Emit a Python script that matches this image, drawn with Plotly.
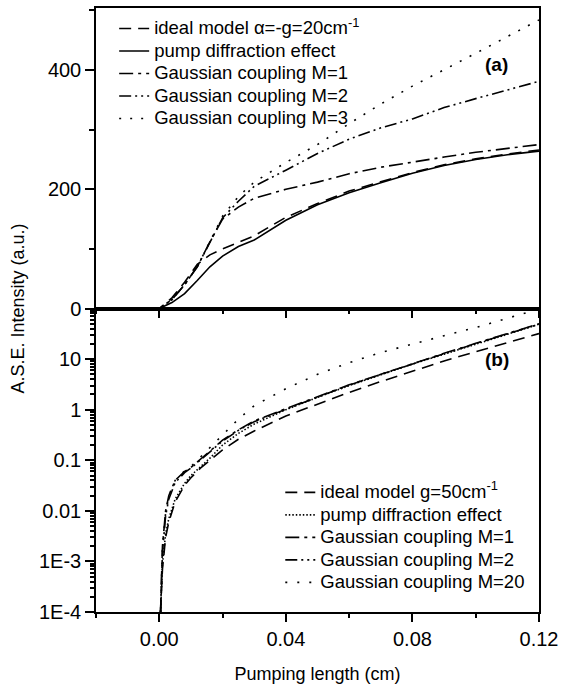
import plotly.graph_objects as go
from plotly.subplots import make_subplots

# panel (a), linear intensity
xa = [-0.02, 0.0, 0.004, 0.008, 0.012, 0.016, 0.02, 0.025, 0.03, 0.04, 0.05,
      0.06, 0.07, 0.08, 0.09, 0.10, 0.11, 0.12]
ideal_a = [0, 0, 18, 44, 74, 90, 100, 111, 122, 153, 176, 197, 213, 228, 241, 251, 259, 266]
pump_a = [0, 0, 10, 25, 47, 70, 88, 104, 115, 148, 174, 194, 211, 227, 240, 250, 258, 264]
m1_a = [0, 0, 15, 40, 70, 112, 150, 170, 185, 200, 212, 226, 237, 246, 254, 262, 268, 275]
m2_a = [0, 0, 15, 40, 70, 112, 152, 180, 205, 232, 260, 284, 303, 318, 337, 352, 367, 381]
m3_a = [0, 0, 15, 40, 70, 112, 155, 188, 212, 245, 275, 310, 343, 373, 400, 428, 456, 484]

# panel (b), log intensity
xb = [0.0004, 0.001, 0.002, 0.003, 0.005, 0.008, 0.01, 0.013, 0.016, 0.02, 0.025,
      0.03, 0.04, 0.05, 0.06, 0.07, 0.08, 0.09, 0.10, 0.11, 0.12]
ideal_b = [1e-4, 7e-4, 0.003, 0.006, 0.015, 0.032, 0.045, 0.07, 0.1, 0.16, 0.26,
           0.38, 0.75, 1.3, 2.2, 3.6, 5.8, 9.2, 14, 21.5, 32]
pump_b = [1e-4, 9e-4, 0.0035, 0.007, 0.017, 0.035, 0.05, 0.075, 0.11, 0.2, 0.34,
          0.52, 1.0, 1.75, 3.0, 4.9, 8.0, 12.5, 20, 31, 49]
m1_b = [1e-4, 0.002, 0.01, 0.02, 0.04, 0.06, 0.072, 0.105, 0.15, 0.25, 0.4,
        0.6, 1.05, 1.8, 3.1, 5.0, 8.2, 13, 20.5, 32, 50]
m2_b = [1e-4, 0.0015, 0.008, 0.017, 0.036, 0.057, 0.07, 0.1, 0.145, 0.24, 0.39,
        0.58, 1.02, 1.78, 3.05, 5.0, 8.1, 12.8, 20.2, 31.5, 49]
m20_b = [1e-4, 0.0018, 0.009, 0.019, 0.04, 0.062, 0.075, 0.115, 0.18, 0.31, 0.65,
         1.2, 2.6, 5.0, 8.5, 13.5, 20, 29, 42, 64, 98]

names_a = ['ideal model \u03b1=-g=20cm<sup>-1</sup>', 'pump diffraction effect',
           'Gaussian coupling M=1', 'Gaussian coupling M=2', 'Gaussian coupling M=3']
names_b = ['ideal model g=50cm<sup>-1</sup>', 'pump diffraction effect',
           'Gaussian coupling M=1', 'Gaussian coupling M=2', 'Gaussian coupling M=20']

dashes_a = ['12px,7px', 'solid', '14px,5px,3px,5px', '12px,4px,2px,4px,2px,4px', '2px,9px']
dashes_b = ['12px,7px', '1.5px,2px', '14px,5px,3px,5px', '12px,4px,2px,4px,2px,4px', '2px,10px']

FONT = 'Liberation Sans, Arial, sans-serif'


def big(label):
    # larger glyphs than the legend row height would normally allow
    return '<span style="font-size:18.5px">' + label + '</span>'


fig = make_subplots(rows=2, cols=1, shared_xaxes=True, vertical_spacing=0,
                    row_heights=[0.4976, 0.5024])

for ys, name, dash in zip([ideal_a, pump_a, m1_a, m2_a, m3_a], names_a, dashes_a):
    fig.add_trace(go.Scatter(x=xa, y=ys, name=big(name), mode='lines', legend='legend',
                             line=dict(color='black', width=1.6, dash=dash)), row=1, col=1)

for ys, name, dash in zip([ideal_b, pump_b, m1_b, m2_b, m20_b], names_b, dashes_b):
    fig.add_trace(go.Scatter(x=xb, y=ys, name=big(name), mode='lines', legend='legend2',
                             line=dict(color='black', width=1.6, dash=dash)), row=2, col=1)

axis_common = dict(showline=True, linecolor='black', linewidth=1.5, mirror=True,
                   showgrid=False, zeroline=False, ticks='outside', tickcolor='black',
                   tickwidth=1.5, tickfont=dict(family=FONT, size=20, color='black'))

fig.update_xaxes(range=[-0.02, 0.12], tick0=0, dtick=0.04, ticklen=8,
                 minor=dict(dtick=0.02, ticks='outside', ticklen=4, tickcolor='black'),
                 **axis_common)
fig.update_xaxes(showticklabels=False, row=1, col=1)
fig.update_xaxes(showticklabels=True, tickformat='.2f', row=2, col=1,
                 title=dict(text='Pumping length (cm)', standoff=19,
                            font=dict(family=FONT, size=18, color='black')))

fig.update_yaxes(range=[0, 504], tick0=0, dtick=200, ticklen=9,
                 minor=dict(dtick=100, ticks='outside', ticklen=5, tickcolor='black'),
                 row=1, col=1, **axis_common)
fig.update_yaxes(type='log', range=[-4, 2], ticklen=9,
                 tickvals=[1e-4, 1e-3, 1e-2, 0.1, 1, 10],
                 ticktext=['1E-4', '1E-3', '0.01', '0.1', '1', '10'],
                 minor=dict(dtick='D1', ticks='outside', ticklen=4, tickcolor='black'),
                 row=2, col=1, **axis_common)

legend_style = dict(bgcolor='rgba(0,0,0,0)', borderwidth=0,
                    font=dict(family=FONT, size=15, color='black'),
                    xanchor='left', yanchor='top')

fig.update_layout(
    width=564, height=687,
    margin=dict(l=96, r=25, t=6, b=68),
    paper_bgcolor='white', plot_bgcolor='white',
    showlegend=True,
    legend=dict(x=0.041, y=0.993, **legend_style),
    legend2=dict(x=0.416, y=0.225, **legend_style),
    annotations=[
        dict(text='<b>(a)</b>', x=0.1067, y=410, xref='x', yref='y', showarrow=False,
             font=dict(family=FONT, size=19, color='black')),
        dict(text='<b>(b)</b>', x=0.1067, y=0.987, xref='x2', yref='y2', showarrow=False,
             font=dict(family=FONT, size=19, color='black')),
        dict(text='A.S.E. Intensity (a.u.)', x=-0.176, y=0.5024, xref='paper', yref='paper',
             textangle=-90, showarrow=False, xanchor='center', yanchor='middle',
             font=dict(family=FONT, size=18, color='black')),
    ],
)

fig.write_html("out.html", config={'displayModeBar': False},
               post_script="document.body.style.margin='0';")
